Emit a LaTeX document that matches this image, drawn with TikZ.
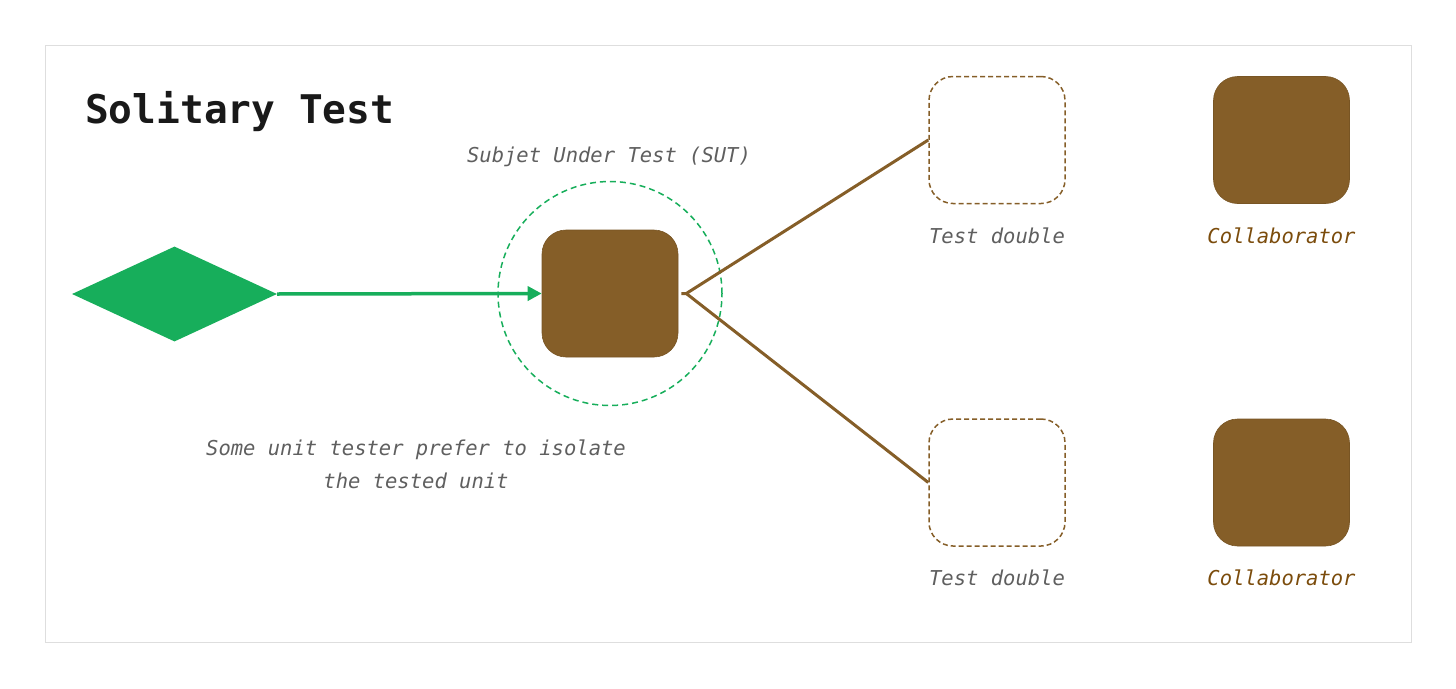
\documentclass[tikz,border=0pt]{standalone}
\usepackage{fontspec}
\newfontfamily\codefont{DejaVu Sans Mono}
\usetikzlibrary{arrows.meta,positioning,shapes.geometric}
\definecolor{sutgreen}{HTML}{17AE5B}
\definecolor{unitbrown}{HTML}{855E28}
\definecolor{labelgray}{HTML}{5F5F5F}
\definecolor{collabtext}{HTML}{7B4C0C}
\definecolor{framegray}{HTML}{DEDEDE}

\begin{document}
\begin{tikzpicture}[
  x=1pt, y=-1pt,
  unit/.style={rounded corners=24pt, minimum width=136pt, minimum height=127pt, inner sep=0pt},
  real/.style={unit, fill=unitbrown, draw=unitbrown!90!black, line width=0.6pt},
  double/.style={unit, draw=unitbrown, dash pattern=on 5pt off 3pt, line width=1.5pt},
  lbl/.style={font=\codefont\itshape\fontsize{20.5}{33}\selectfont, inner sep=0pt, text=labelgray},
  link/.style={draw=unitbrown, line width=3pt},
]
  \useasboundingbox (0,0) rectangle (1456,688);
  \draw[framegray, line width=1pt] (45,45) rectangle (1411,642);
  \node[anchor=base west, inner sep=0pt, text=black!90,
        font=\codefont\bfseries\fontsize{39.5}{39.5}\selectfont] (title) at (85,123) {Solitary Test};

  % ---------------- subject under test
  \node[real] (sut) at (610,293.5) {};
  \node[circle, draw=sutgreen, dash pattern=on 6pt off 4pt, line width=1.5pt,
        minimum size=224pt, inner sep=0pt] (scope) at (sut) {};
  \node[lbl, anchor=base] (sutlbl) at (609,162) {Subjet Under Test (SUT)};
  \node[diamond, fill=sutgreen, minimum width=205pt, minimum height=95pt,
        aspect=2.16, inner sep=0pt] (input) at (174.5,294) {};
  \draw[sutgreen, line width=3.5pt, -{Triangle[length=14pt,width=14pt]}] (input.east) -- (sut.west);
  \node[lbl, align=center] (note) at (416,464) {Some unit tester prefer to isolate\\the tested unit};

  % ---------------- doubles and collaborators
  \foreach \row/\y in {1/140, 2/482.5} {
    \node[double] (double\row) at (997,\y) {};
    \node[real] (collab\row) at (1281.5,\y) {};
    \node[lbl, anchor=base] (doublelbl\row) at (997,\y+103) {Test double};
    \node[lbl, anchor=base, text=collabtext] (collablbl\row) at (1281.5,\y+103) {Collaborator};
  }
  \coordinate (fork) at ([xshift=8pt]sut.east);
  \draw[link] ([xshift=3pt]sut.east) -- (fork) -- (double1.west);
  \draw[link] (fork) -- (double2.west);
\end{tikzpicture}
\end{document}
